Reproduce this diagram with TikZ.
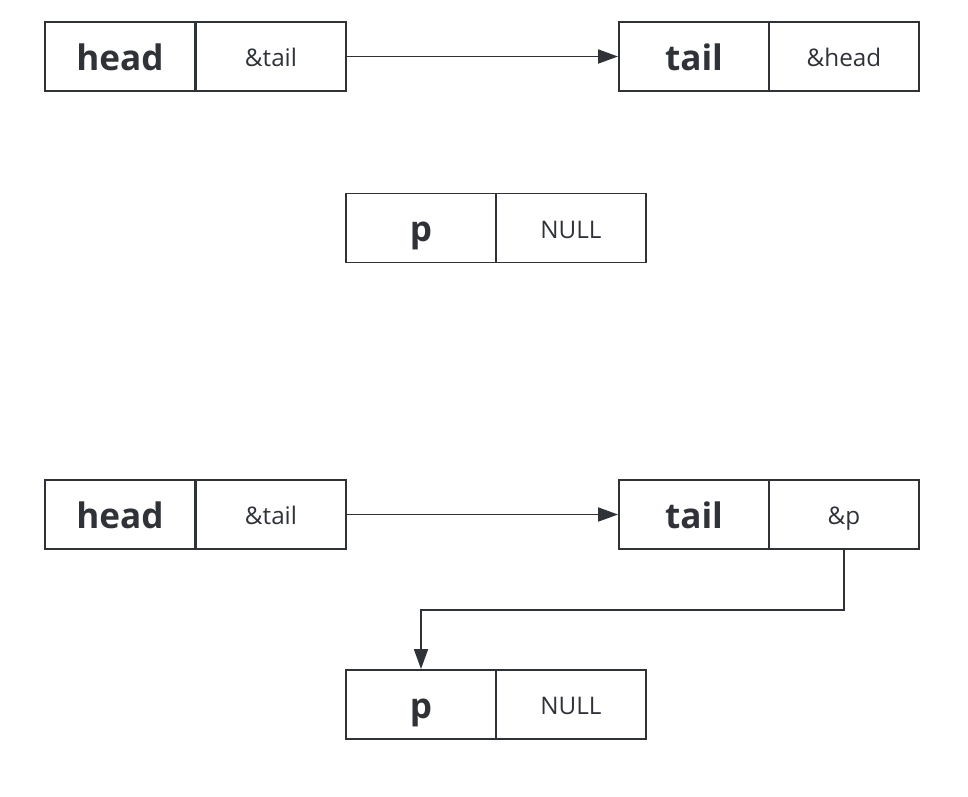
\documentclass[tikz,border=0pt]{standalone}
\usepackage{fontspec}
\setmainfont{Open Sans}
\usepackage{tikz}
\usetikzlibrary{arrows.meta, positioning, calc}
\definecolor{lgray}{RGB}{47, 51, 56}

\begin{document}
\begin{tikzpicture}[
    cell/.style={draw=lgray, line width=1.1pt, minimum width=3cm, minimum height=1.38cm, inner sep=0pt, text=lgray},
    keycell/.style={cell, font=\fontsize{20}{24}\selectfont\bfseries, text height=0.75cm, text depth=0.21cm},
    ptrcell/.style={cell, font=\fontsize{13.8}{16}\selectfont, text height=0.55cm, text depth=0.15cm},
    link/.style={draw=lgray, line width=1.1pt, -{Triangle[length=4mm, width=2.8mm]}},
]
    \useasboundingbox (0,0) rectangle (19.36,-15.92);

    % Before
    \node[keycell] (head) at (2.4,-1.13) {head};
    \node[ptrcell] (headptr) at (5.42,-1.13) {\&tail};
    \node[keycell] (tail) at (13.88,-1.13) {tail};
    \node[ptrcell] (tailptr) at (16.88,-1.13) {\&head};

    \node[keycell] (p) at (8.42,-4.56) {p};
    \node[ptrcell] (pptr) at (11.42,-4.56) {NULL};

    \draw[link] (headptr.east) -- (tail.west);

    % After
    \node[keycell] (head2) at (2.4,-10.29) {head};
    \node[ptrcell] (head2ptr) at (5.42,-10.29) {\&tail};
    \node[keycell] (tail2) at (13.88,-10.29) {tail};
    \node[ptrcell] (tail2ptr) at (16.88,-10.29) {\&p};

    \node[keycell] (p2) at (8.42,-14.09) {p};
    \node[ptrcell] (p2ptr) at (11.42,-14.09) {NULL};

    \draw[link] (head2ptr.east) -- (tail2.west);
    \draw[link] (tail2ptr.south) -- ++(0,-1.2) -| (p2.north);
\end{tikzpicture}
\end{document}
